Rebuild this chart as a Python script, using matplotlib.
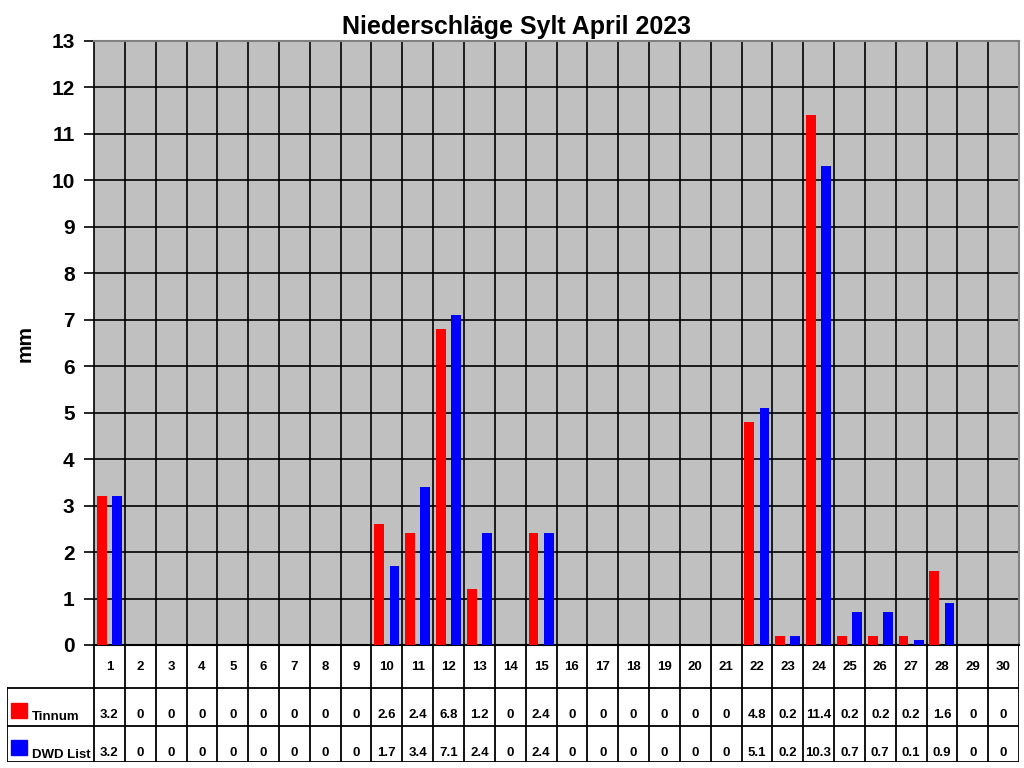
import numpy as np
import matplotlib.pyplot as plt
from matplotlib.patches import Rectangle

plt.rcParams["font.family"] = ["Liberation Sans", "DejaVu Sans"]
plt.rcParams["font.weight"] = "bold"

days = list(range(1, 31))
tinnum = [3.2, 0, 0, 0, 0, 0, 0, 0, 0, 2.6, 2.4, 6.8, 1.2, 0, 2.4,
          0, 0, 0, 0, 0, 0, 4.8, 0.2, 11.4, 0.2, 0.2, 0.2, 1.6, 0, 0]
dwd_list = [3.2, 0, 0, 0, 0, 0, 0, 0, 0, 1.7, 3.4, 7.1, 2.4, 0, 2.4,
            0, 0, 0, 0, 0, 0, 5.1, 0.2, 10.3, 0.7, 0.7, 0.1, 0.9, 0, 0]
series = [("Tinnum", tinnum, "#ff0000"), ("DWD List", dwd_list, "#0000ff")]

W, H = 1024, 768
fig = plt.figure(figsize=(W / 100, H / 100), dpi=100)

# plot area in pixels
x0, x1 = 94, 1019
y_top, y_bot = 41, 645
ax = fig.add_axes([x0 / W, 1 - y_bot / H, (x1 - x0) / W, (y_bot - y_top) / H])
ax.set_facecolor("#c0c0c0")

x = np.array(days)
ax.bar(x - 0.245, tinnum, width=0.32, color="#ff0000", zorder=3)
ax.bar(x + 0.245, dwd_list, width=0.32, color="#0000ff", zorder=3)

ax.set_xlim(0.5, 30.5)
ax.set_ylim(0, 13)
ax.set_yticks(range(0, 14))
ax.set_xticks([])
ax.set_xticks(np.arange(1.5, 30.5, 1), minor=True)
ax.tick_params(axis="x", which="both", length=0)
ax.tick_params(axis="y", length=7, width=1.2, labelsize=15, pad=7)
for lbl in ax.get_yticklabels():
    lbl.set_fontweight("bold")
ax.grid(axis="y", color="black", lw=1.2, zorder=1)
ax.grid(axis="x", which="minor", color="black", lw=1.2, zorder=1)
for s in ["top", "right"]:
    ax.spines[s].set_color("#808080")
    ax.spines[s].set_linewidth(1.5)
ax.spines["left"].set_linewidth(1.2)
ax.spines["bottom"].set_linewidth(1.5)

ax.set_ylabel("mm", fontsize=15, fontweight="bold")
ax.yaxis.set_label_coords(-0.064, 0.5)
fig.text(516 / W, 1 - 27 / H, "Niederschläge Sylt April 2023", fontsize=18,
         fontweight="bold", ha="center", va="center")

# data table below the plot
tx0, ty_bot = 7, 762
row1, row2 = 688, 726
tab = fig.add_axes([tx0 / W, 1 - ty_bot / H, (x1 - tx0) / W, (ty_bot - y_bot) / H])
left_x = 0.5 - (x0 - tx0) / ((x1 - x0) / 30)
tab.set_xlim(left_x, 30.5)
tab.set_ylim(ty_bot, y_bot)
tab.axis("off")
lk = dict(color="black", lw=1.3)
for b in np.arange(0.5, 31.5, 1):
    tab.plot([b, b], [y_bot, ty_bot], **lk)
tab.plot([left_x, 30.5], [row1, row1], **lk)
tab.plot([left_x, 30.5], [row2, row2], **lk)
tab.plot([left_x, 30.5], [ty_bot, ty_bot], **lk)
tab.plot([left_x, left_x], [row1, ty_bot], **lk)

for d in days:
    tab.text(d, 667, str(d), ha="center", va="center", fontsize=9.5, fontweight="bold")

box_w = 16 / ((x1 - x0) / 30)
for (name, vals, col), ytxt, ybox in zip(series, [718, 756], [703, 740]):
    for d, v in zip(days, vals):
        tab.text(d, ytxt, f"{v:g}", ha="center", va="baseline", fontsize=9.5,
                 fontweight="bold")
    tab.add_patch(Rectangle((left_x + 4 / 30.83, ybox + 15), box_w, -15,
                            color=col, clip_on=False))
    tab.text(left_x + 25 / 30.83, ytxt + 2, name, ha="left", va="baseline",
             fontsize=9.5, fontweight="bold")

fig.savefig("out.png", dpi=100)
